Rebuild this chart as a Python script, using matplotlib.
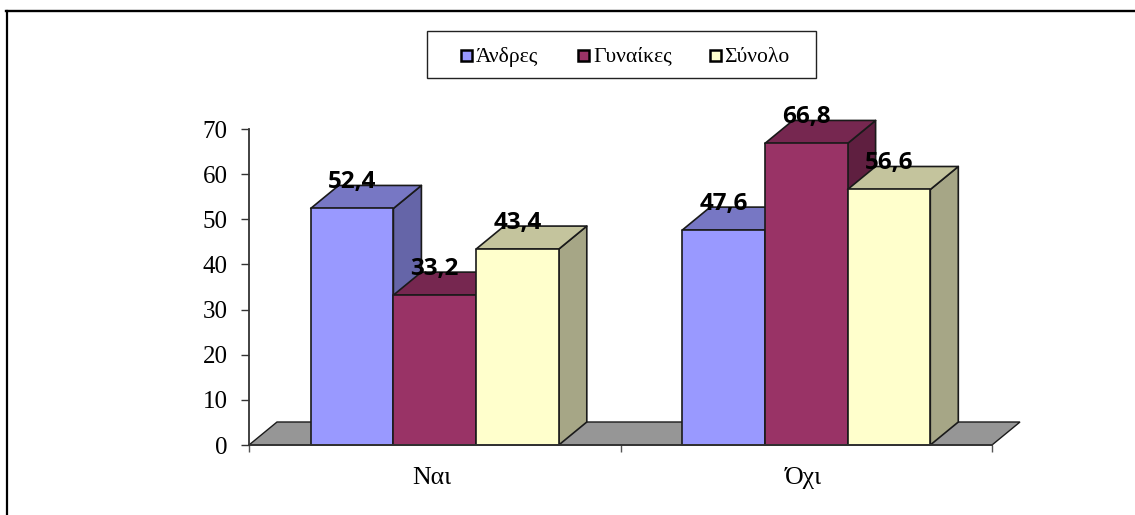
import matplotlib
matplotlib.use('Agg')
import matplotlib.pyplot as plt
from matplotlib.patches import Polygon, Rectangle
from matplotlib.lines import Line2D

categories = ['Ναι', 'Όχι']
series_names = ['Άνδρες', 'Γυναίκες', 'Σύνολο']
men = [52.4, 47.6]
women = [33.2, 66.8]
total = [43.4, 56.6]
y_ticks = [0, 10, 20, 30, 40, 50, 60, 70]

W, H = 1135, 515
front = ['#9999ff', '#993366', '#ffffcc']
top = ['#7777c4', '#762750', '#c4c49d']
side = ['#6565a8', '#5f1f40', '#a6a686']
edge = '#1a1a1a'

fig = plt.figure(figsize=(W / 100, H / 100), dpi=100)
ax = fig.add_axes([249 / W, 1 - 445 / H, (992 - 249) / W, (445 - 129) / H])
ax.set_xlim(0, 2)
ax.set_ylim(0, 70)

bar_w = 82.7 / 371.5
dx = 28 / 371.5
dy = 23 / (316 / 70)


def draw_bar(x, v, i, z):
    kw = dict(edgecolor=edge, linewidth=1.2, clip_on=False, zorder=z, joinstyle='round')
    ax.add_patch(Polygon([(x + bar_w, 0), (x + bar_w + dx, dy), (x + bar_w + dx, v + dy), (x + bar_w, v)], facecolor=side[i], **kw))
    ax.add_patch(Polygon([(x, v), (x + dx, v + dy), (x + bar_w + dx, v + dy), (x + bar_w, v)], facecolor=top[i], **kw))
    ax.add_patch(Rectangle((x, 0), bar_w, v, facecolor=front[i], **kw))


# floor
ax.add_patch(Polygon([(0, 0), (dx, dy), (2 + dx, dy), (2, 0)], facecolor='#969696', edgecolor=edge, linewidth=1, clip_on=False, zorder=1))

for c in range(len(categories)):
    vals = [men[c], women[c], total[c]]
    start = c + 0.5 - 1.5 * bar_w
    for i, v in enumerate(vals):
        draw_bar(start + i * bar_w, v, i, 2 + i)
    for i, v in enumerate(vals):
        ax.text(start + i * bar_w + bar_w / 2, v + 5.8, str(v).replace('.', ','),
                family='Open Sans', weight='bold', fontsize=17.5, ha='center', va='center', color='black', zorder=10)

for s in ['top', 'right']:
    ax.spines[s].set_visible(False)
for s in ['left', 'bottom']:
    ax.spines[s].set_color('#333333')
    ax.spines[s].set_linewidth(1.3)
    ax.spines[s].set_zorder(8)

ax.set_yticks(y_ticks)
ax.set_yticklabels([str(t) for t in y_ticks], family='Liberation Serif', fontsize=18, color='black')
ax.set_xticks([0, 1, 2])
ax.set_xticklabels([])
# labels sit a little left of the group centres in the original
ax.set_xticks([0.492, 1.492], minor=True)
ax.set_xticklabels(categories, minor=True, family='Liberation Serif', fontsize=18.5, color='black')
ax.tick_params(axis='x', which='minor', length=0, pad=16)
ax.tick_params(axis='x', which='major', length=5, width=1, color='#555555')
ax.tick_params(axis='y', length=5.5, width=1, color='#333333', pad=10)

# legend box and outer frame in figure pixels
def px(x, y):
    return x / W, 1 - y / H


fig.add_artist(Rectangle(px(427, 78), 389 / W, 47 / H, facecolor='white', edgecolor='#222222', linewidth=1, transform=fig.transFigure))
legend_sw = [461, 578, 710]
legend_tx = [476, 593, 724]
for name, c, sx, tx in zip(series_names, front, legend_sw, legend_tx):
    fig.add_artist(Rectangle(px(sx, 61), 11 / W, 11 / H, facecolor=c, edgecolor='black', linewidth=1.8, transform=fig.transFigure))
    fig.text(*px(tx, 57), name, family='Liberation Serif', fontsize=15.6, ha='left', va='center', color='black')

fig.add_artist(Line2D([7 / W, 7 / W], [0, 1 - 10.5 / H], color='black', linewidth=1.6))
fig.add_artist(Line2D([6 / W, 1], [1 - 10.5 / H, 1 - 10.5 / H], color='black', linewidth=1.7))

fig.savefig('out.png', dpi=100)
